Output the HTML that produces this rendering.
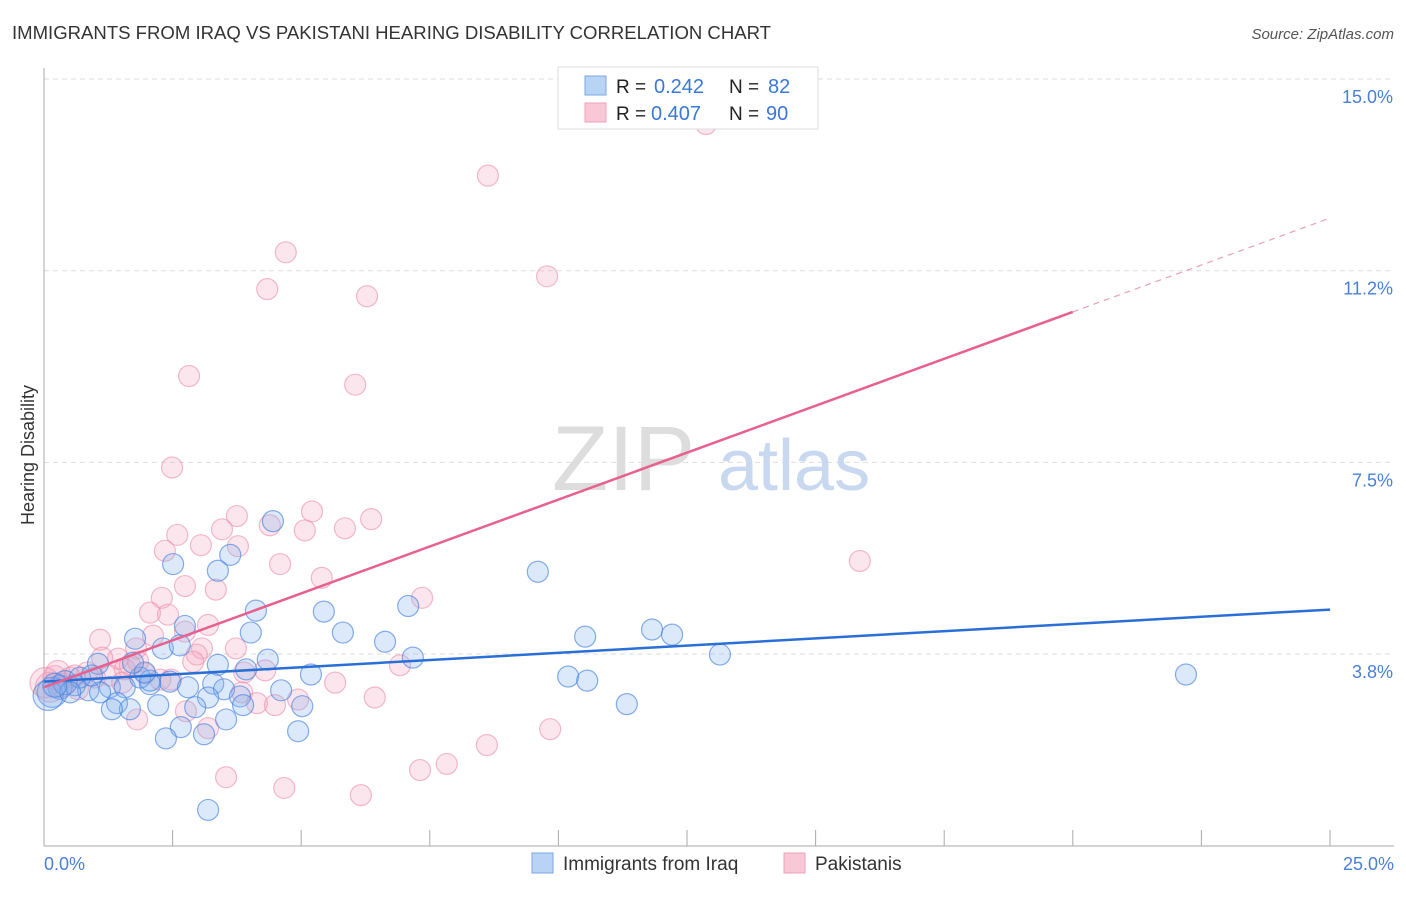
<!DOCTYPE html>
<html><head><meta charset="utf-8">
<style>
body{margin:0;background:#fff;font-family:"Liberation Sans",sans-serif;}
svg text{font-family:"Liberation Sans",sans-serif;}
</style></head>
<body>
<svg id="chart" width="1406" height="892" viewBox="0 0 1406 892">
<text x="12" y="39" font-size="18" fill="#333" textLength="759" lengthAdjust="spacingAndGlyphs">IMMIGRANTS FROM IRAQ VS PAKISTANI HEARING DISABILITY CORRELATION CHART</text>
<text x="1394" y="39" font-size="15" fill="#555" font-style="italic" text-anchor="end">Source: ZipAtlas.com</text>
<g id="grid"></g>
<g>
<text x="552" y="490" font-size="92" fill="#ddd" font-family="Liberation Serif">ZIP</text>
<text x="718" y="490" font-size="72" fill="#c8d8f0">atlas</text>
</g>
<g id="axes"></g>
<g id="pts"></g>
<g id="lines"></g>
<text x="34" y="455" font-size="18" fill="#333" transform="rotate(-90 34 455)" text-anchor="middle">Hearing Disability</text>
<text x="44" y="870" font-size="18" fill="#4a7fd6">0.0%</text>
<text x="1394" y="870" font-size="18" fill="#4a7fd6" text-anchor="end">25.0%</text>
<g>
<rect x="558" y="67" width="260" height="62" fill="#fff" stroke="#ddd"/>
<rect x="585" y="76" width="21" height="19" fill="#b9d3f5" stroke="#7aa7e6"/>
<rect x="585" y="103" width="21" height="19" fill="#f8c8d6" stroke="#f0a0b8"/>
<text x="616" y="93" font-size="19" fill="#222">R =</text>
<text x="654" y="93" font-size="20" fill="#3a78d8">0.242</text>
<text x="729" y="93" font-size="19" fill="#222">N =</text>
<text x="768" y="93" font-size="20" fill="#3a78d8">82</text>
<text x="616" y="120" font-size="19" fill="#222">R =</text>
<text x="651" y="120" font-size="20" fill="#3a78d8">0.407</text>
<text x="729" y="120" font-size="19" fill="#222">N =</text>
<text x="766" y="120" font-size="20" fill="#3a78d8">90</text>
</g>
<g>
<rect x="532" y="853" width="21" height="20" fill="#b9d3f5" stroke="#7aa7e6"/>
<text x="563" y="870" font-size="19" fill="#333">Immigrants from Iraq</text>
<rect x="784" y="853" width="21" height="20" fill="#f8c8d6" stroke="#f0a0b8"/>
<text x="815" y="870" font-size="19" fill="#333">Pakistanis</text>
</g>
</svg>
<script>
const yTicks=[3.75,7.5,11.25,15];
const yTickLabels=["3.8%","7.5%","11.2%","15.0%"];
const xTicks=[0,2.5,5,7.5,10,12.5,15,17.5,20,22.5,25];
const iraqX=[4.45,3.62,2.51,3.38,9.60,4.12,5.44,7.08,2.74,4.02,5.81,1.77,6.63,10.52,11.82,12.21,2.31,2.64,4.35,3.38,7.17,13.14,5.19,10.19,10.56,22.20,2.06,2.45,2.80,3.29,3.93,1.05,1.28,1.57,3.50,4.61,3.81,3.19,2.22,1.42,1.67,1.32,2.94,3.54,2.66,2.37,3.11,4.94,11.33,5.02,3.87,3.19,0.31,0.60,0.86,0.16,0.08,0.41,0.70,1.09,1.87,2.06,0.93,0.51,0.21,1.96,1.73];
const iraqY=[6.35,5.69,5.51,5.38,5.36,4.60,4.58,4.69,4.30,4.17,4.17,4.05,3.99,4.09,4.23,4.13,3.86,3.92,3.64,3.54,3.68,3.74,3.35,3.31,3.23,3.35,3.16,3.21,3.10,3.17,3.45,3.56,3.10,3.10,3.06,3.04,2.92,2.90,2.75,2.79,2.67,2.67,2.71,2.47,2.32,2.10,2.18,2.24,2.77,2.73,2.75,0.70,3.10,3.14,3.04,3.00,2.94,3.19,3.29,3.00,3.29,3.23,3.33,3.00,3.14,3.39,3.58];
const pakX=[12.87,8.63,4.70,9.78,4.34,6.28,2.82,6.05,2.49,3.75,5.21,6.36,4.39,3.46,5.85,2.59,3.77,3.05,2.35,5.07,4.59,5.40,15.86,2.74,3.34,2.29,7.35,2.06,2.41,3.19,2.74,2.12,1.09,1.79,3.07,3.73,2.97,2.90,1.83,1.44,1.13,4.30,3.89,6.92,5.66,2.47,1.57,0.84,0.51,2.26,3.85,2.76,3.19,4.14,4.49,4.94,6.43,1.81,8.61,9.84,7.83,7.31,3.54,4.67,6.16,0.21,0.12,0.35,0.66,0.99,1.28,1.52,1.96,1.67,0.27,0.02,0.60];
const pakY=[14.12,13.11,11.61,11.14,10.89,10.75,9.19,9.02,7.40,6.45,6.54,6.39,6.27,6.19,6.21,6.08,5.86,5.88,5.77,6.17,5.51,5.24,5.57,5.08,5.01,4.85,4.85,4.56,4.52,4.32,4.19,4.11,4.03,3.86,3.86,3.86,3.74,3.60,3.60,3.66,3.68,3.43,3.39,3.53,3.19,3.25,3.45,3.39,3.29,3.25,3.00,2.63,2.30,2.79,2.75,2.86,2.90,2.47,1.97,2.28,1.60,1.48,1.34,1.13,0.99,3.29,3.10,3.14,3.06,3.29,3.33,3.19,3.37,3.53,3.39,3.19,3.33];
const iraqTrend=[3.21,4.62];
const pakTrend=[3.10,12.28];
const pakSolidEnd=20;
const NS="http://www.w3.org/2000/svg";
const xs=v=>44+v/25*1286;
const ys=v=>845.7-v*51.11;
function mk(tag,attrs,parent){const e=document.createElementNS(NS,tag);for(const k in attrs)e.setAttribute(k,attrs[k]);parent.appendChild(e);return e;}
const grid=document.getElementById('grid'),axes=document.getElementById('axes'),pts=document.getElementById('pts'),lines=document.getElementById('lines');
yTicks.forEach((t,i)=>{
  const l=mk('line',{x1:44,x2:1394,y1:ys(t),y2:ys(t),stroke:'#ddd','stroke-dasharray':'5,4'},grid);
  
  
  const tx=mk('text',{x:1393,y:ys(t)+24,'font-size':18,fill:'#4a7fd6','text-anchor':'end'},grid);
  tx.textContent=yTickLabels[i];
  
  
});
const ax=mk('line',{x1:44,x2:44,y1:68,y2:846,stroke:'#aaa'},axes);


const bx=mk('line',{x1:44,x2:1394,y1:846,y2:846,stroke:'#aaa'},axes);


xTicks.forEach(t=>{
  const l=mk('line',{x1:xs(t),x2:xs(t),y1:830,y2:846,stroke:'#aaa'},axes);
  
  
});
function drawPts(X,Y,fill,stroke,name){
  X.forEach((x,i)=>{
    const r=x<0.5?(x<0.2?15:12):10.5;
    const c=mk('circle',{cx:xs(x),cy:ys(Y[i]),r:r,fill:fill,stroke:stroke,'stroke-width':1.2},pts);
    
    
  });
}
drawPts(pakX,pakY,'rgba(244,165,192,0.28)','rgba(236,140,172,0.6)','pakistani-point');
drawPts(iraqX,iraqY,'rgba(130,175,238,0.28)','rgba(70,130,225,0.65)','iraq-point');
const bl=mk('line',{x1:xs(0),y1:ys(iraqTrend[0]),x2:xs(25),y2:ys(iraqTrend[1]),stroke:'#2a6fd6','stroke-width':2.5},lines);


const pe=pakTrend[0]+(pakTrend[1]-pakTrend[0])*pakSolidEnd/25;
const pl=mk('line',{x1:xs(0),y1:ys(pakTrend[0]),x2:xs(pakSolidEnd),y2:ys(pe),stroke:'#e8608e','stroke-width':2.5},lines);


const pd=mk('line',{x1:xs(pakSolidEnd),y1:ys(pe),x2:xs(25),y2:ys(pakTrend[1]),stroke:'#e8a0b8','stroke-width':1.2,'stroke-dasharray':'6,5'},lines);


</script>
</body></html>
